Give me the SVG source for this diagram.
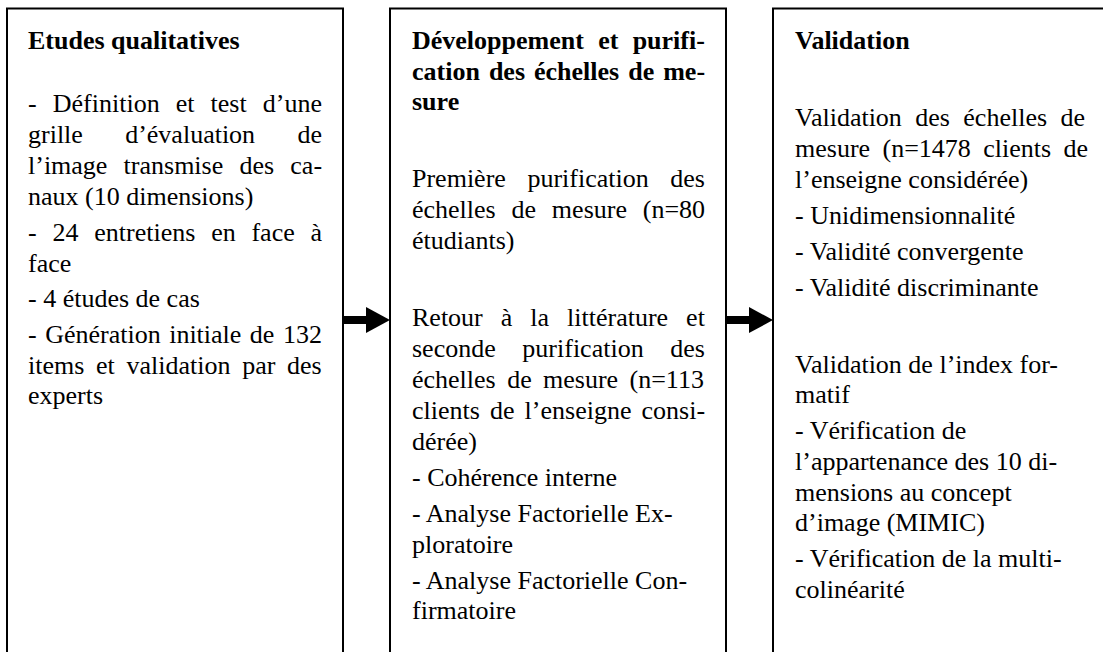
<svg xmlns="http://www.w3.org/2000/svg" width="1103" height="652" viewBox="0 0 1103 652">
<style>
.box{fill:#fff;stroke:#000;stroke-width:2}
.t{font-family:"Liberation Serif","Times New Roman",serif;font-size:26px;fill:#000}
.b{font-weight:bold}
.arr{stroke:#000;stroke-width:8;fill:none}
</style>
<defs>
<marker id="ah" markerUnits="userSpaceOnUse" markerWidth="24" markerHeight="26" refX="4" refY="13" orient="auto">
<path d="M0,0 L24,13 L0,26 z" fill="#000"/>
</marker>
</defs>
<rect width="1103" height="652" fill="#fff"/>
<g id="node-etudes">
<rect class="box" x="7" y="8.5" width="336" height="660"/>
<text class="t b" x="28" y="49">Etudes qualitatives</text>
<text class="t" x="28" y="112" style="word-spacing:9.6px">- Définition et test d’une</text>
<text class="t" x="28" y="143" style="word-spacing:35.8px">grille d’évaluation de</text>
<text class="t" x="28" y="174" style="word-spacing:9.7px">l’image transmise des ca-</text>
<text class="t" x="28" y="205">naux (10 dimensions)</text>
<text class="t" x="28" y="241" style="word-spacing:9.3px">- 24 entretiens en face à</text>
<text class="t" x="28" y="272">face</text>
<text class="t" x="28" y="307">- 4 études de cas</text>
<text class="t" x="28" y="343" style="word-spacing:2px">- Génération initiale de 132</text>
<text class="t" x="28" y="374" style="word-spacing:5.2px">items et validation par des</text>
<text class="t" x="28" y="404">experts</text>
</g>
<g id="node-developpement">
<rect class="box" x="390" y="8.5" width="336" height="660"/>
<text class="t b" x="412" y="49" style="word-spacing:7.8px">Développement et purifi-</text>
<text class="t b" x="412" y="80" style="word-spacing:2.5px">cation des échelles de me-</text>
<text class="t b" x="412" y="110">sure</text>
<text class="t" x="412" y="187" style="word-spacing:15.1px">Première purification des</text>
<text class="t" x="412" y="218" style="word-spacing:9.3px">échelles de mesure (n=80</text>
<text class="t" x="412" y="249">étudiants)</text>
<text class="t" x="412" y="326" style="word-spacing:11.5px">Retour à la littérature et</text>
<text class="t" x="412" y="357" style="word-spacing:20.1px">seconde purification des</text>
<text class="t" x="412" y="388" style="word-spacing:4.9px">échelles de mesure (n=113</text>
<text class="t" x="412" y="419" style="word-spacing:3.6px">clients de l’enseigne consi-</text>
<text class="t" x="412" y="450">dérée)</text>
<text class="t" x="412" y="486">- Cohérence interne</text>
<text class="t" x="412" y="522">- Analyse Factorielle Ex-</text>
<text class="t" x="412" y="553">ploratoire</text>
<text class="t" x="412" y="589">- Analyse Factorielle Con-</text>
<text class="t" x="412" y="619">firmatoire</text>
</g>
<g id="node-validation">
<rect class="box" x="773" y="8.5" width="337" height="660"/>
<text class="t b" x="795" y="49">Validation</text>
<text class="t" x="795" y="126" style="word-spacing:6.9px">Validation des échelles de</text>
<text class="t" x="795" y="157" style="word-spacing:5.9px">mesure (n=1478 clients de</text>
<text class="t" x="795" y="188">l’enseigne considérée)</text>
<text class="t" x="795" y="224">- Unidimensionnalité</text>
<text class="t" x="795" y="260">- Validité convergente</text>
<text class="t" x="795" y="296">- Validité discriminante</text>
<text class="t" x="795" y="373">Validation de l’index for-</text>
<text class="t" x="795" y="403">matif</text>
<text class="t" x="795" y="439">- Vérification de</text>
<text class="t" x="795" y="470">l’appartenance des 10 di-</text>
<text class="t" x="795" y="501">mensions au concept</text>
<text class="t" x="795" y="531">d’image (MIMIC)</text>
<text class="t" x="795" y="567">- Vérification de la multi-</text>
<text class="t" x="795" y="598">colinéarité</text>
</g>
<g id="connectors">
<path class="arr" d="M344,320 L370,320" marker-end="url(#ah)"/>
<path class="arr" d="M727,320 L753,320" marker-end="url(#ah)"/>
</g>
</svg>
